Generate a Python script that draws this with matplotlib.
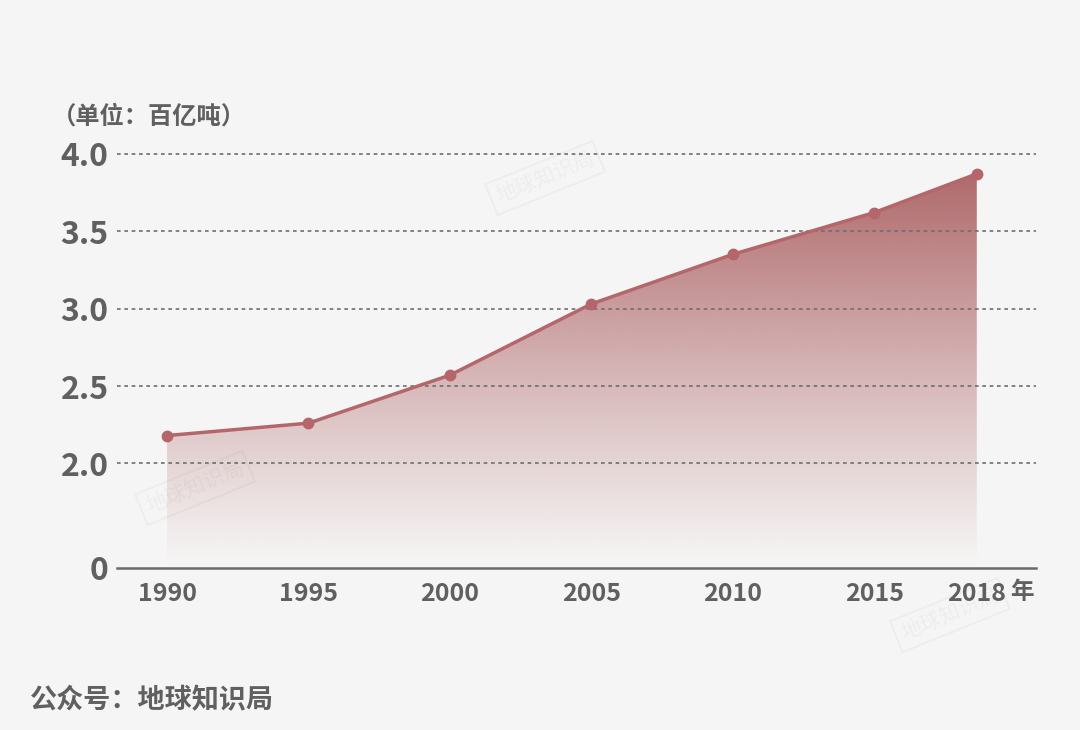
import numpy as np
import matplotlib
matplotlib.use("Agg")
import matplotlib.pyplot as plt

plt.rcParams['font.family'] = ['Noto Sans CJK SC', 'DejaVu Sans']

# ---- data ----
years = [1990, 1995, 2000, 2005, 2010, 2015, 2018]
values = [2.18, 2.26, 2.57, 3.03, 3.35, 3.62, 3.87]
xtick_labels = ["1990", "1995", "2000", "2005", "2010", "2015", "2018"]
yticks = [0, 2.0, 2.5, 3.0, 3.5, 4.0]
ytick_labels = ["0", "2.0", "2.5", "3.0", "3.5", "4.0"]
unit_label = "（单位：百亿吨）"
year_unit = "年"
source_label = "公众号：地球知识局"
watermark = "地球知识局"

BG = "#f6f5f5"
LINE = "#b5666b"
TEXT = "#606060"
GRID = "#6e6e6e"

W, H = 1080, 730
fig = plt.figure(figsize=(W / 100, H / 100), dpi=100, facecolor=BG)
ax = fig.add_axes([117 / W, 1 - 568 / H, (1036 - 117) / W, (568 - 146) / H])
ax.set_facecolor(BG)

# broken y axis: compress 0..2
K = 0.3377
def yf(v):
    v = np.asarray(v, dtype=float)
    return np.where(v >= 2, v, 2 - (2 - v) * K)
def yi(v):
    v = np.asarray(v, dtype=float)
    return np.where(v >= 2, v, 2 - (2 - v) / K)
ax.set_yscale('function', functions=(yf, yi))

# last interval slightly stretched on x
S = 1.21
def xf(x):
    x = np.asarray(x, dtype=float)
    return np.where(x <= 2015, x, 2015 + (x - 2015) * S)
def xi(x):
    x = np.asarray(x, dtype=float)
    return np.where(x <= 2015, x, 2015 + (x - 2015) / S)
ax.set_xscale('function', functions=(xf, xi))

ax.set_xlim(1988.23, 2019.73)
ax.set_ylim(0, 4.05)

# gradient fill
poly = ax.fill_between(years, 0, values, facecolor='none', edgecolor='none', zorder=1)
n = 400
frac = np.linspace(0, 1, n)[:, None]
alpha = np.clip(frac / 0.93, 0, 1) ** 1.1
rgba = np.zeros((n, 2, 4))
c = matplotlib.colors.to_rgb("#b06a6c")
rgba[..., 0] = c[0]
rgba[..., 1] = c[1]
rgba[..., 2] = c[2]
rgba[..., 3] = alpha
im = ax.imshow(rgba, extent=[0, 1, 0, 1], transform=ax.transAxes, origin='lower',
               aspect='auto', zorder=1, interpolation='bilinear')
im.set_clip_path(poly.get_paths()[0], transform=ax.transData)

# grid lines
for yv in yticks[1:]:
    ax.axhline(yv, color=GRID, lw=1.2, ls=(0, (2.2, 2.2)), zorder=2)

# line + markers
ax.plot(years, values, color=LINE, lw=2.5, marker='o', ms=7.5, zorder=4,
        markerfacecolor=LINE, markeredgecolor=LINE)

for s in ax.spines.values():
    s.set_visible(False)
ax.axhline(0, color="#6a6a6a", lw=1.8, zorder=3, clip_on=False)

ax.set_yticks(yticks)
ax.set_yticklabels(ytick_labels)
ax.set_xticks(years)
ax.set_xticklabels(xtick_labels)
ax.tick_params(axis='y', length=0, pad=6, labelsize=23, labelcolor=TEXT)
ax.tick_params(axis='x', length=0, pad=10, labelsize=18, labelcolor=TEXT)
for t in ax.get_xticklabels() + ax.get_yticklabels():
    t.set_fontweight('bold')

ax.annotate(year_unit, xy=(2018, 0), xycoords='data', xytext=(24, -17),
            textcoords='offset points', ha='left', va='center', fontsize=17,
            color=TEXT, fontweight='bold')

fig.text(52 / W, 1 - 117 / H, unit_label, ha='left', va='center', fontsize=17.5,
         color=TEXT, fontweight='bold')
fig.text(30 / W, 1 - 700 / H, source_label, ha='left', va='center', fontsize=19.5,
         color=TEXT, fontweight='bold')

# faint watermarks
for (px, py) in [(545, 178), (195, 488), (950, 615)]:
    fig.text(px / W, 1 - py / H, watermark, ha='center', va='center', fontsize=15,
             color="#000000", alpha=0.035, rotation=22,
             bbox=dict(facecolor='none', edgecolor=(0, 0, 0, 0.03), lw=1.5))

fig.savefig("out.png", dpi=100, facecolor=BG)
